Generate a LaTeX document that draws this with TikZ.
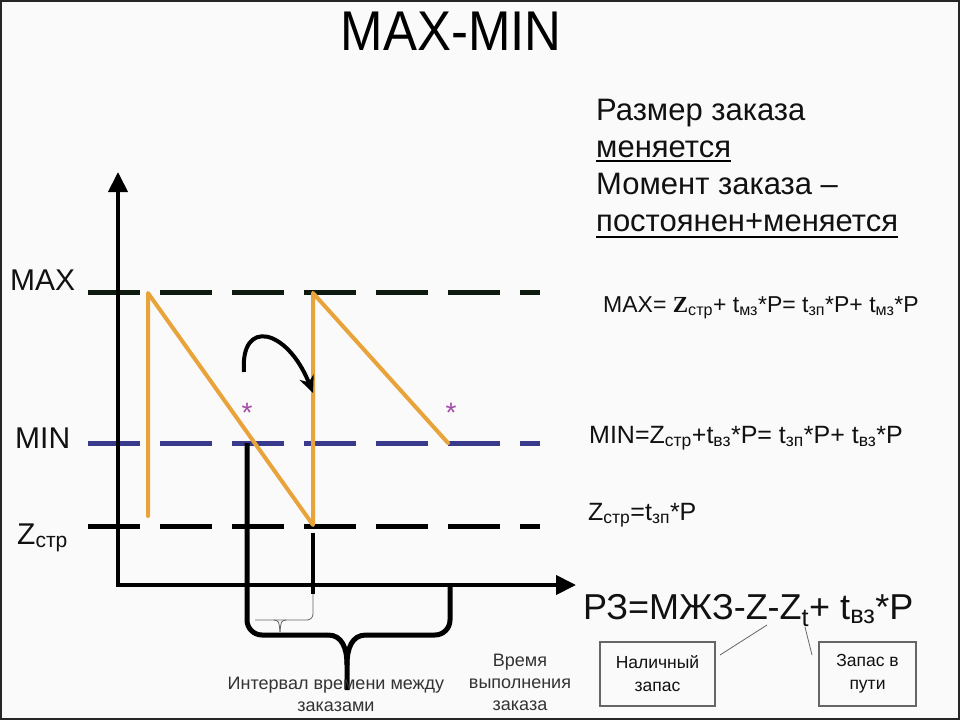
\documentclass[tikz,border=0pt]{standalone}
\usepackage{fontspec}
\setmainfont{Liberation Sans}
\newfontfamily\serifbf{Liberation Serif}
\usetikzlibrary{arrows.meta}
\definecolor{sawcol}{HTML}{E8A33A}
\definecolor{maxcol}{HTML}{0E1A10}
\definecolor{mincol}{HTML}{3A3A8C}
\definecolor{starcol}{HTML}{A44AA8}
\definecolor{txtcol}{HTML}{111111}
\newcommand\sbs[1]{\textsubscript{#1}}
\begin{document}
\begin{tikzpicture}[x=1pt,y=-1pt,
  txt/.style={inner sep=0pt, anchor=base west, text=txtcol},
  dashline/.style={line width=5pt, dash pattern=on 52pt off 20pt},
  saw/.style={line width=4pt, draw=sawcol, line cap=round, line join=round},
  bracepath/.style={line width=5pt, rounded corners=15pt},
  thinline/.style={line width=0.8pt, draw=black!60},
  boxnode/.style={draw=black!60, line width=1.2pt, minimum height=64pt, align=center, inner sep=0pt, font=\fontsize{17.5}{23}\selectfont, text=txtcol},
  small/.style={align=center, inner sep=0pt, font=\fontsize{18}{22}\selectfont, text=black!80},
]
\useasboundingbox (0,0) rectangle (960,720);
\fill[black!2] (0,0) rectangle (960,720);
\draw[line width=2.5pt, black!85] (1,1) rectangle (959,719);

% title
\node[inner sep=0pt, anchor=base, font=\fontsize{56}{60}\selectfont] (title) at (451,50) {\scalebox{0.91}[1]{MAX-MIN}};

% level lines
\coordinate (maxL) at (88,292); \coordinate (maxR) at (540,292);
\coordinate (minL) at (88,443); \coordinate (minR) at (540,443);
\coordinate (zL) at (88,526);   \coordinate (zR) at (540,526);
\draw[dashline, draw=maxcol] (maxL) -- (maxR);
\draw[dashline, draw=mincol] (minL) -- (minR);
\draw[dashline, draw=black] (zL) -- (zR);

% axes
\coordinate (O) at (118,585);
\coordinate (Ytip) at (118,172);
\coordinate (Xtip) at (576,585);
\draw[line width=4pt, line join=miter, {Triangle[length=20pt,width=19pt]}-{Triangle[length=20pt,width=19pt]}] (Ytip) -- (O) -- (Xtip);

% level labels
\node[txt, font=\fontsize{30}{30}\selectfont] (lmax) at (10,290) {MAX};
\node[txt, font=\fontsize{30}{30}\selectfont] (lmin) at (15,448) {MIN};
\node[txt, font=\fontsize{30}{30}\selectfont] (lz) at (17,544) {Z\sbs{стр}};

% vertical markers and braces
\coordinate (v1top) at (247,443);
\coordinate (v2top) at (313,533);
\coordinate (v2bot) at (313,594);
\draw[line width=4pt] (v2top) -- (v2bot);
\draw[thinline, rounded corners=6pt] (v2bot) -- (313,620) -- (255,620);
\draw[thinline] (274,620) .. controls (279,621) .. (280,632);
\draw[thinline] (286,620) .. controls (281,621) .. (280,632);

\coordinate (tip) at (347,690);
\coordinate (br) at (450,587);
\draw[bracepath] (v1top) -- (247,635) -- (328,635);
\draw[line width=5pt] (328,635) .. controls (342,635) and (347,648) .. (347,665) -- (tip);
\draw[bracepath] (br) -- (450,635) -- (366,635);
\draw[line width=5pt] (366,635) .. controls (352,635) and (347,648) .. (347,665);

% sawtooth
\coordinate (a1) at (148,516);
\coordinate (a2) at (148,293);
\coordinate (b1) at (313,525);
\coordinate (b2) at (313,293);
\coordinate (c1) at (448,443);
\draw[saw] (a1) -- (a2) -- (b1) -- (b2) -- (c1);

% curved arrow
\coordinate (ca0) at (244,372);
\coordinate (ca1) at (313,393);
\draw[line width=4pt, -{Stealth[length=17pt,width=15pt]}] (ca0) .. controls (240,318) and (287,328) .. (ca1);

% stars
\node[inner sep=0pt, anchor=north, text=starcol, font=\fontsize{28}{28}\selectfont] (s1) at (247,403) {*};
\node[inner sep=0pt, anchor=north, text=starcol, font=\fontsize{28}{28}\selectfont] (s2) at (451,403) {*};

% right text block
\node[txt, font=\fontsize{31}{31}\selectfont] (r1) at (596,120) {Размер заказа};
\node[txt, font=\fontsize{31}{31}\selectfont] (r2) at (596,157) {меняется};
\node[txt, font=\fontsize{31}{31}\selectfont] (r3) at (596,194) {Момент заказа –};
\node[txt, font=\fontsize{31}{31}\selectfont] (r4) at (596,231) {постоянен+меняется};
\draw[line width=2pt] ([yshift=-4pt]r2.base west) -- ([yshift=-4pt]r2.base east);
\draw[line width=2pt] ([yshift=-6pt]r4.base west) -- ([yshift=-6pt]r4.base east);

% formulas
\node[txt, font=\fontsize{23}{23}\selectfont] (fmax) at (603,312) {MAX= {\serifbf\bfseries Z}\sbs{стр}+ t\sbs{мз}*P= t\sbs{зп}*P+ t\sbs{мз}*P};
\node[txt, font=\fontsize{25}{25}\selectfont] (fmin) at (589,443) {MIN=Z\sbs{стр}+t\sbs{вз}*P= t\sbs{зп}*P+ t\sbs{вз}*P};
\node[txt, font=\fontsize{25}{25}\selectfont] (fz) at (588,520) {Z\sbs{стр}=t\sbs{зп}*P};
\node[txt, font=\fontsize{36}{36}\selectfont] (frz) at (583,619) {РЗ=МЖЗ-Z-Z\sbs{t}+ t\sbs{вз}*P};

% boxes
\node[boxnode, minimum width=115pt] (box1) at (657.5,674) {Наличный\\запас};
\node[boxnode, minimum width=97pt] (box2) at (867.5,674) {Запас в\\пути};
\coordinate (k1a) at (720,655); \coordinate (k1b) at (767,625);
\coordinate (k2a) at (805,627); \coordinate (k2b) at (812,655);
\draw[thinline] (k1a) -- (k1b);
\draw[thinline] (k2a) -- (k2b);

% bottom labels
\node[small] (t1) at (520,682) {Время\\выполнения\\заказа};
\node[small] (t2) at (336,694) {Интервал времени между\\заказами};
\end{tikzpicture}
\end{document}
